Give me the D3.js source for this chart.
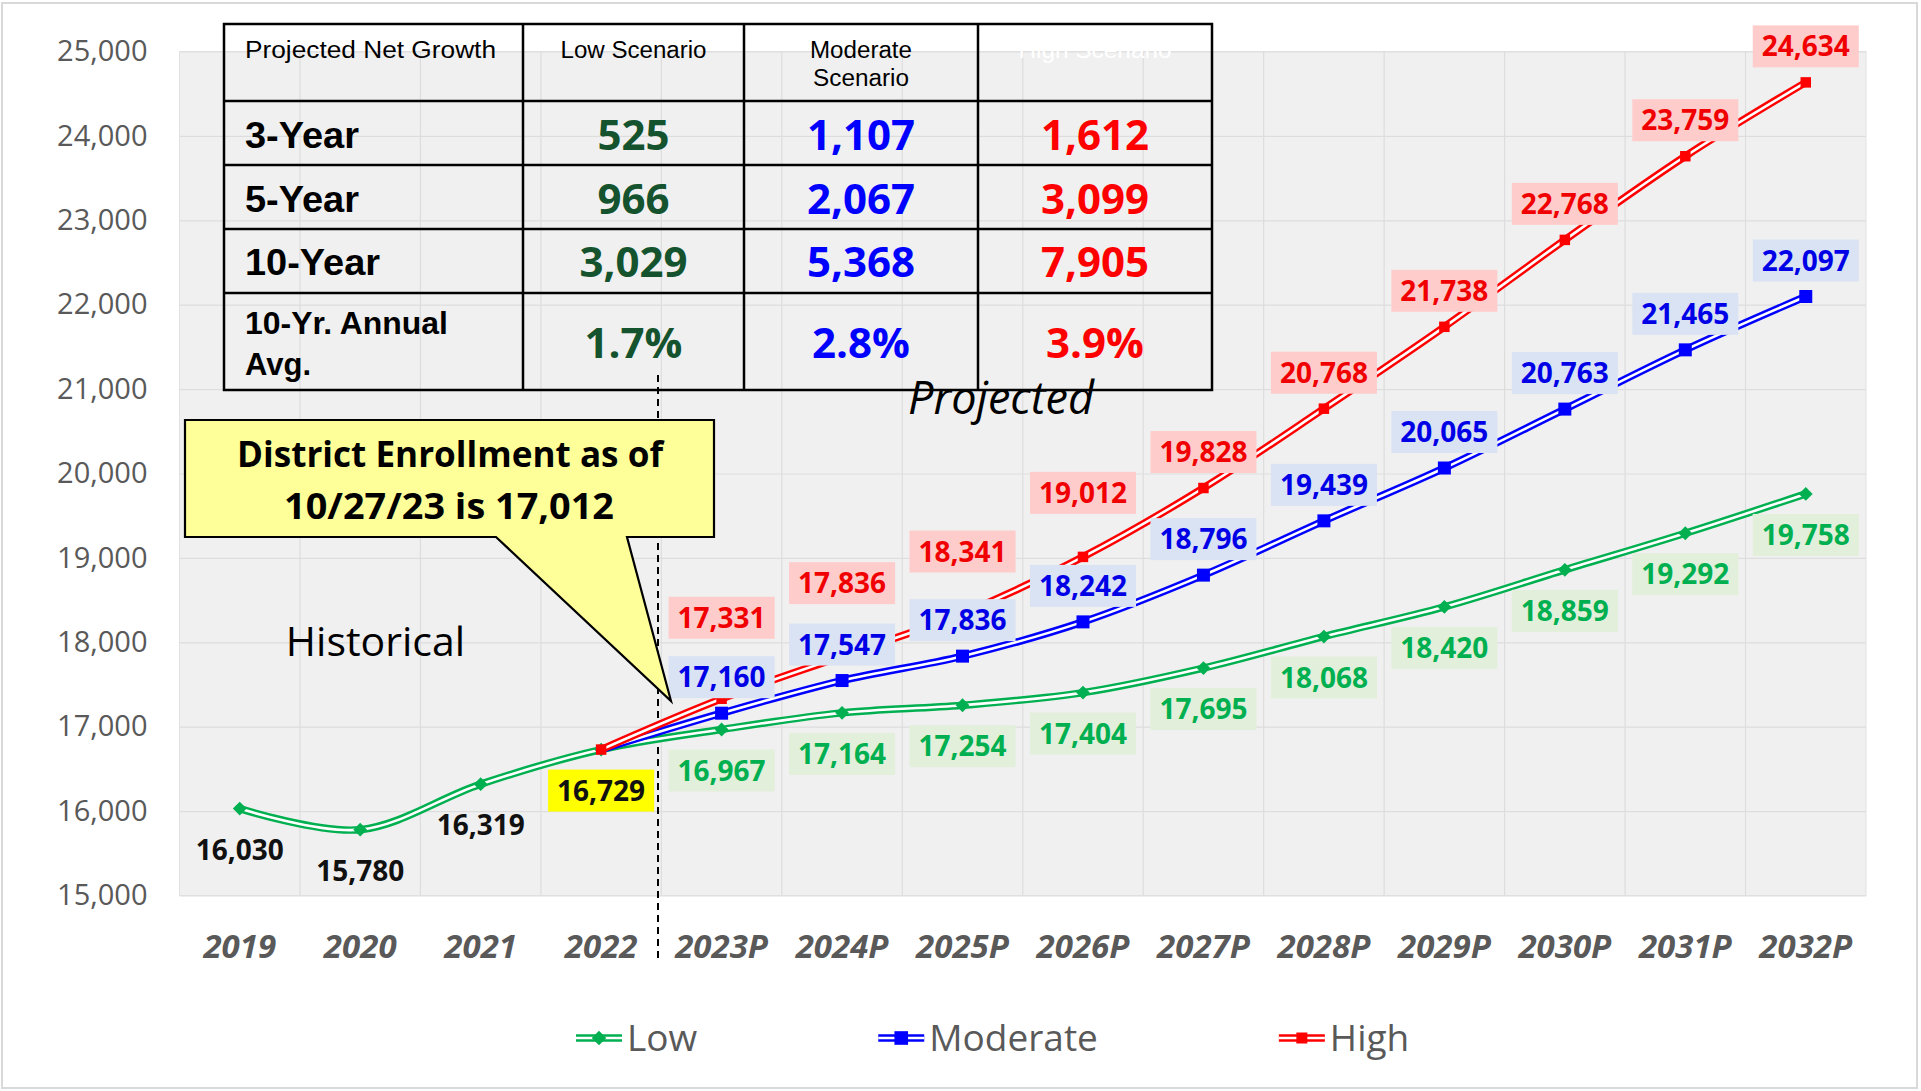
<!DOCTYPE html>
<html><head><meta charset="utf-8">
<script src="https://cdn.jsdelivr.net/npm/d3@7"></script>
<style>
html,body{margin:0;padding:0;background:#fff;}
svg{display:block;}
</style></head><body>
<svg id="chart" width="1921" height="1091"></svg>
<script>
// ---------------- DATA ----------------
const categories = ["2019","2020","2021","2022","2023P","2024P","2025P","2026P","2027P","2028P","2029P","2030P","2031P","2032P"];
const lowValues      = [16030,15780,16319,16729,16967,17164,17254,17404,17695,18068,18420,18859,19292,19758];
const moderateValues = [null,null,null,16729,17160,17547,17836,18242,18796,19439,20065,20763,21465,22097];
const highValues     = [null,null,null,16729,17331,17836,18341,19012,19828,20768,21738,22768,23759,24634];
const yTickValues = [15000,16000,17000,18000,19000,20000,21000,22000,23000,24000,25000];
const legendLabels = ["Low","Moderate","High"];
const tableHeaders = ["Projected Net Growth","Low Scenario","Moderate Scenario","High Scenario"];
const tableRowLabels = ["3-Year","5-Year","10-Year","10-Yr. Annual Avg."];
const lowGrowth = ["525","966","3,029","1.7%"];
const moderateGrowth = ["1,107","2,067","5,368","2.8%"];
const highGrowth = ["1,612","3,099","7,905","3.9%"];
const calloutLines = ["District Enrollment as of","10/27/23 is 17,012"];
const historicalText = "Historical";
const projectedText = "Projected";
const lastHistoricalIndex = 3;

// ---------------- LAYOUT ----------------
const plot = {left:179.5, right:1866, top:51.5, bottom:895.5};
const highLabelDy = [0,0,0,0,-81,-73,-62,-64,-36,-36,-36,-36,-36,-36];
const modLabelDy = -36, lowLabelDy = 41;
const colors = {Low:"#00b050", Moderate:"#0000ff", High:"#ff0000"};
const labelText = {Low:"#00b050", Moderate:"#0000e6", High:"#f00000"};
const labelFill = {Low:"#e2efda", Moderate:"#dae3f3", High:"#ffcccc"};

const svg = d3.select("#chart");
svg.append("rect").attr("x",2).attr("y",3).attr("width",1915).attr("height",1085)
  .attr("fill","#fff").attr("stroke","#d9d9d9").attr("stroke-width",2);

const x = d3.scaleBand().domain(categories).range([plot.left, plot.right]).padding(0);
const cx = c => x(c) + x.bandwidth()/2;
const y = d3.scaleLinear().domain([15000,25000]).range([plot.bottom, plot.top]);

// plot background
svg.append("rect").attr("x",plot.left).attr("y",plot.top)
  .attr("width",plot.right-plot.left).attr("height",plot.bottom-plot.top)
  .attr("fill","#f0f0f0").attr("stroke","#e2e2e2");

// horizontal gridlines
const gGrid = svg.append("g").attr("transform",`translate(${plot.left},0)`)
  .call(d3.axisLeft(y).tickValues(yTickValues).tickSize(-(plot.right-plot.left)).tickFormat(""));
gGrid.select(".domain").remove();
gGrid.selectAll("line").attr("stroke","#dddddd").attr("stroke-width",1.2);

// vertical gridlines (category boundaries)
svg.append("g").selectAll("line").data(categories.slice(1)).join("line")
  .attr("x1",d=>x(d)).attr("x2",d=>x(d)).attr("y1",plot.top).attr("y2",plot.bottom)
  .attr("stroke","#dddddd").attr("stroke-width",1.2);

// y axis labels
const gY = svg.append("g").attr("transform",`translate(${plot.left},0)`)
  .call(d3.axisLeft(y).tickValues(yTickValues).tickSize(0).tickPadding(32).tickFormat(d3.format(",")));
gY.select(".domain").remove();
gY.selectAll("text").attr("font-family","Open Sans").attr("font-size",29).attr("fill","#595959");

// x axis labels
const gX = svg.append("g").attr("transform",`translate(0,${plot.bottom})`)
  .call(d3.axisBottom(x).tickSize(0).tickPadding(39));
gX.select(".domain").remove();
gX.selectAll("text").attr("font-family","Open Sans").attr("font-size",33)
  .attr("font-weight",700).attr("font-style","italic").attr("fill","#595959");

// dashed divider
svg.append("line").attr("x1",658).attr("x2",658).attr("y1",375).attr("y2",962)
  .attr("stroke","#000").attr("stroke-width",2).attr("stroke-dasharray","7,5");

// series
const series = [
  {name:"Low", values:lowValues, marker:d3.symbolSquare, size:95, rotate:45, firstMarker:0},
  {name:"Moderate", values:moderateValues, marker:d3.symbolSquare, size:169, rotate:0, firstMarker:lastHistoricalIndex+1},
  {name:"High", values:highValues, marker:d3.symbolSquare, size:110, rotate:0, firstMarker:lastHistoricalIndex}
];
const line = d3.line().defined(d=>d.v!=null).x(d=>cx(d.c)).y(d=>y(d.v)).curve(d3.curveCatmullRom.alpha(0));
const gLines = svg.append("g");
series.forEach(s=>{
  const pts = categories.map((c,i)=>({c, v:s.values[i], i}));
  gLines.append("path").datum(pts).attr("d",line).attr("fill","none")
    .attr("stroke",colors[s.name]).attr("stroke-width",7.5);
  gLines.append("path").datum(pts).attr("d",line).attr("fill","none")
    .attr("stroke","#ffffff").attr("stroke-width",2.6);
  gLines.append("g").selectAll("path").data(pts.filter(d=>d.v!=null && d.i>=s.firstMarker)).join("path")
    .attr("transform",d=>`translate(${cx(d.c)},${y(d.v)}) rotate(${s.rotate})`)
    .attr("d",d3.symbol().type(s.marker).size(s.size))
    .attr("fill",colors[s.name]);
});

// data labels
const gLabels = svg.append("g");
function addLabel(xPos, yc, text, color, fill){
  const g = gLabels.append("g");
  const t = g.append("text").attr("x",xPos).attr("y",yc).attr("dy","0.36em")
    .attr("text-anchor","middle").attr("font-family","Open Sans").attr("font-weight",700)
    .attr("font-size",28).attr("fill",color).text(text);
  if(fill){
    const w = t.node().getComputedTextLength();
    g.insert("rect","text").attr("x",xPos-w/2-9).attr("y",yc-21).attr("width",w+18).attr("height",42).attr("fill",fill);
  }
}
const fmt = d3.format(",");
lowValues.forEach((v,i)=>{
  const c = categories[i];
  if(i < lastHistoricalIndex) addLabel(cx(c), y(v)+lowLabelDy, fmt(v), "#111", null);
  else if(i === lastHistoricalIndex) addLabel(cx(c), y(v)+lowLabelDy, fmt(v), "#111", "#ffff00");
  else addLabel(cx(c), y(v)+lowLabelDy, fmt(v), labelText.Low, labelFill.Low);
});
moderateValues.forEach((v,i)=>{
  if(v==null || i<=lastHistoricalIndex) return;
  addLabel(cx(categories[i]), y(v)+modLabelDy, fmt(v), labelText.Moderate, labelFill.Moderate);
});
highValues.forEach((v,i)=>{
  if(v==null || i<=lastHistoricalIndex) return;
  addLabel(cx(categories[i]), y(v)+highLabelDy[i], fmt(v), labelText.High, labelFill.High);
});

// ---------------- TABLE ----------------
const tbl = {left:224, right:1212, cols:[224,523,744,978,1212], rows:[24,101,165,229,293,390]};
const gT = svg.append("g");
function fitText(sel, w){ sel.attr("textLength",w).attr("lengthAdjust","spacingAndGlyphs"); return sel; }
// header
fitText(gT.append("text").attr("x",245).attr("y",50).attr("dy","0.35em").attr("font-family","Liberation Sans")
  .attr("font-size",23).attr("fill","#000").text(tableHeaders[0]), 251);
fitText(gT.append("text").attr("x",633.5).attr("y",50).attr("dy","0.35em").attr("text-anchor","middle").attr("font-family","Liberation Sans")
  .attr("font-size",23).attr("fill","#000").text(tableHeaders[1]), 146);
const modHdr = tableHeaders[2].split(" ");
fitText(gT.append("text").attr("x",861).attr("y",50).attr("dy","0.35em").attr("text-anchor","middle").attr("font-family","Liberation Sans")
  .attr("font-size",23).attr("fill","#000").text(modHdr[0]), 102);
fitText(gT.append("text").attr("x",861).attr("y",78).attr("dy","0.35em").attr("text-anchor","middle").attr("font-family","Liberation Sans")
  .attr("font-size",23).attr("fill","#000").text(modHdr[1]), 96);
fitText(gT.append("text").attr("x",1095).attr("y",50).attr("dy","0.35em").attr("text-anchor","middle").attr("font-family","Liberation Sans")
  .attr("font-size",23).attr("fill","#ffffff").text(tableHeaders[3]), 153);

// row labels
const rowCenters = [135,198.5,262,343];
const rowLabelWidths = [114,114,135];
tableRowLabels.forEach((r,i)=>{
  if(i<3){
    fitText(gT.append("text").attr("x",245).attr("y",rowCenters[i]).attr("dy","0.36em").attr("font-family","Liberation Sans")
      .attr("font-weight",700).attr("font-size",37).attr("fill","#000").text(r), rowLabelWidths[i]);
  } else {
    fitText(gT.append("text").attr("x",245).attr("y",323).attr("dy","0.36em").attr("font-family","Liberation Sans")
      .attr("font-weight",700).attr("font-size",31).attr("fill","#000").text("10-Yr. Annual"), 203);
    fitText(gT.append("text").attr("x",245).attr("y",364).attr("dy","0.36em").attr("font-family","Liberation Sans")
      .attr("font-weight",700).attr("font-size",31).attr("fill","#000").text("Avg."), 66);
  }
});
const valueCols = [{vals:lowGrowth,x:633.5,color:"#14532d"},{vals:moderateGrowth,x:861,color:"#0000ff"},{vals:highGrowth,x:1095,color:"#ff0000"}];
valueCols.forEach(col=>{
  col.vals.forEach((v,i)=>{
    gT.append("text").attr("x",col.x).attr("y",rowCenters[i]).attr("dy","0.36em").attr("text-anchor","middle")
      .attr("font-family","Open Sans").attr("font-weight",700).attr("font-size",42).attr("fill",col.color).text(v);
  });
});
// table lines
gT.append("rect").attr("x",tbl.left).attr("y",tbl.rows[0]).attr("width",tbl.right-tbl.left)
  .attr("height",tbl.rows[5]-tbl.rows[0]).attr("fill","none").attr("stroke","#000").attr("stroke-width",2.5);
tbl.cols.slice(1,4).forEach(cxv=>gT.append("line").attr("x1",cxv).attr("x2",cxv).attr("y1",tbl.rows[0]).attr("y2",tbl.rows[5]).attr("stroke","#000").attr("stroke-width",2.5));
tbl.rows.slice(1,5).forEach(ry=>gT.append("line").attr("x1",tbl.left).attr("x2",tbl.right).attr("y1",ry).attr("y2",ry).attr("stroke","#000").attr("stroke-width",2.5));

// ---------------- ANNOTATIONS ----------------
svg.append("text").attr("x",375.5).attr("y",641).attr("dy","0.36em").attr("text-anchor","middle")
  .attr("font-family","Open Sans").attr("font-size",41).attr("fill","#000").text(historicalText);
svg.append("text").attr("x",1001).attr("y",398).attr("dy","0.36em").attr("text-anchor","middle")
  .attr("font-family","Open Sans").attr("font-style","italic").attr("font-size",45).attr("fill","#000").text(projectedText);

// callout
svg.append("path").attr("d","M185,420 H714 V537 H627 L671,701 L496,537 H185 Z")
  .attr("fill","#ffff99").attr("stroke","#000").attr("stroke-width",2.2).attr("stroke-linejoin","miter");
fitText(svg.append("text").attr("x",450).attr("y",454).attr("dy","0.36em").attr("text-anchor","middle")
  .attr("font-family","Open Sans").attr("font-weight",700).attr("font-size",36).attr("fill","#000").text(calloutLines[0]), 426);
fitText(svg.append("text").attr("x",449).attr("y",506).attr("dy","0.36em").attr("text-anchor","middle")
  .attr("font-family","Open Sans").attr("font-weight",700).attr("font-size",36).attr("fill","#000").text(calloutLines[1]), 330);

// ---------------- LEGEND ----------------
const gL = svg.append("g");
let lx = 576; const ly = 1038;
series.forEach((s,i)=>{
  gL.append("line").attr("x1",lx).attr("x2",lx+46).attr("y1",ly).attr("y2",ly).attr("stroke",colors[s.name]).attr("stroke-width",7.5);
  gL.append("line").attr("x1",lx).attr("x2",lx+46).attr("y1",ly).attr("y2",ly).attr("stroke","#fff").attr("stroke-width",2.6);
  gL.append("path").attr("transform",`translate(${lx+23},${ly}) rotate(${s.rotate})`).attr("d",d3.symbol().type(s.marker).size(s.size*1.1)).attr("fill",colors[s.name]);
  const t = gL.append("text").attr("x",lx+51).attr("y",ly).attr("dy","0.36em").attr("font-family","Open Sans")
    .attr("font-size",37).attr("fill","#595959").text(legendLabels[i]);
  lx = lx + 51 + t.node().getComputedTextLength() + 181;
});
</script>
</body></html>
